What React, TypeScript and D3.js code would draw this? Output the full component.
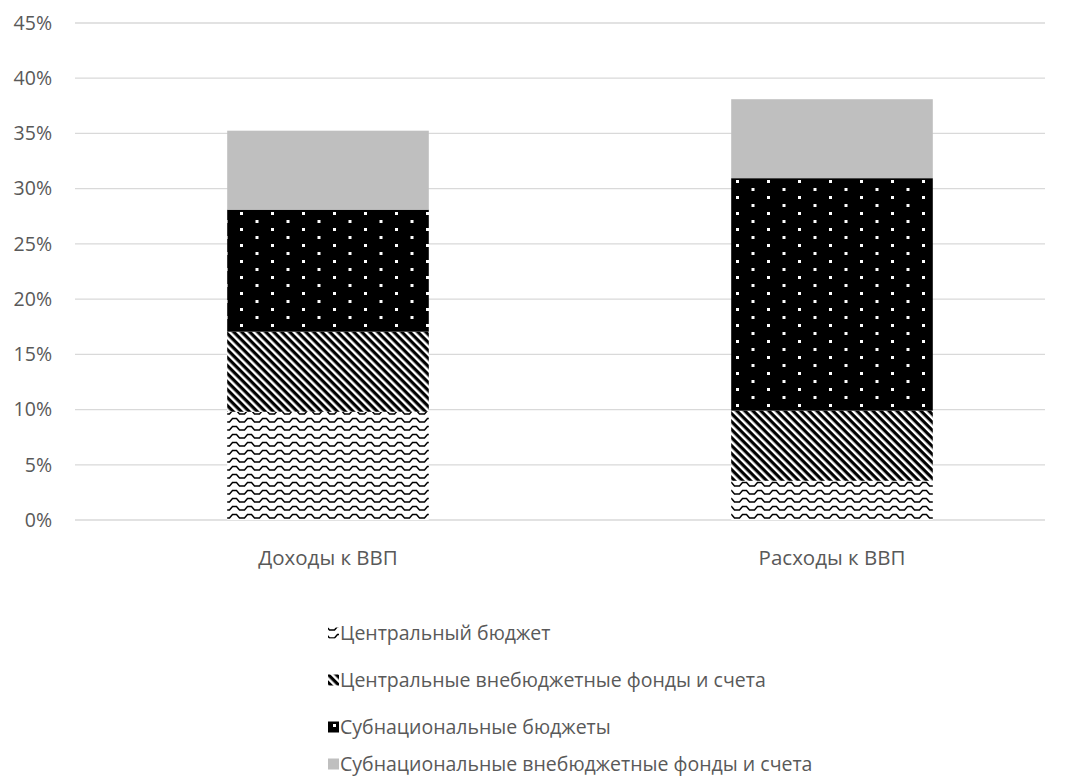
import React from "react";
import * as d3 from "d3";

const categories = ["Доходы к ВВП", "Расходы к ВВП"];
const seriesNames = [
  "Центральный бюджет",
  "Центральные внебюджетные фонды и счета",
  "Субнациональные бюджеты",
  "Субнациональные внебюджетные фонды и счета",
];
const centralBudget = [9.8, 3.55];
const centralExtra = [7.25, 6.35];
const subnationalBudget = [11.05, 21.05];
const subnationalExtra = [7.15, 7.15];
const yTicks = [0, 5, 10, 15, 20, 25, 30, 35, 40, 45];

const W = 1076;
const H = 779;
const FONT = "'Open Sans', 'Noto Sans', sans-serif";
const TEXT = "#595959";
const FS = 19.5;

export default function App() {
  const seriesValues = [centralBudget, centralExtra, subnationalBudget, subnationalExtra];
  const rows = categories.map((c, i) => {
    const r: any = { cat: c };
    seriesNames.forEach((s, k) => (r[s] = seriesValues[k][i]));
    return r;
  });
  const stacked = d3.stack<any>().keys(seriesNames)(rows);

  const y = d3.scaleLinear().domain([0, 45]).range([520, 23]);
  const x = d3.scaleBand().domain(categories).range([76, 1084]).paddingInner(0.6).paddingOuter(0.3);
  const gridX0 = 75;
  const gridX1 = 1045;
  const fills = ["url(#wave)", "url(#hatch)", "url(#dots)", "#bfbfbf"];

  const legendY = [633, 680, 727, 764];

  return (
    <svg width={W} height={H} style={{ position: "absolute", left: 0, top: 0, display: "block" }}>
      <defs>
        <pattern id="wave" patternUnits="userSpaceOnUse" width={15} height={8} x={227} y={0}>
          <rect width={15} height={8} fill="#fff" />
          <path d="M-1,6 L2.5,6 L5.5,2.5 L9.5,2.5 L12.5,6 L16,6" fill="none" stroke="#000" strokeWidth={1.5} />
        </pattern>
        <pattern id="hatch" patternUnits="userSpaceOnUse" width={5.66} height={5.66} patternTransform="rotate(45)">
          <rect width={5.66} height={5.66} fill="#fff" />
          <rect x={0} y={0} width={5.66} height={3.2} fill="#000" />
        </pattern>
        <pattern id="dots" patternUnits="userSpaceOnUse" width={31} height={16} x={240} y={4}>
          <rect width={31} height={16} fill="#000" />
          <rect x={0} y={0} width={3} height={3} fill="#fff" />
          <rect x={15.5} y={8} width={3} height={3} fill="#fff" />
        </pattern>
      </defs>
      <rect width={W} height={H} fill="#fff" />
      {yTicks.map((t) => (
        <g key={t}>
          <line x1={gridX0} x2={gridX1} y1={y(t)} y2={y(t)} stroke="#d9d9d9" strokeWidth={1.3} />
          <text x={52} y={y(t)} dy="0.35em" textAnchor="end" fontFamily={FONT} fontSize={FS} fill={TEXT}>
            {t}%
          </text>
        </g>
      ))}
      {stacked.map((s, k) =>
        s.map((d, i) => (
          <rect
            key={`${k}-${i}`}
            x={x(categories[i])}
            width={x.bandwidth()}
            y={y(d[1])}
            height={y(d[0]) - y(d[1])}
            fill={fills[k]}
          />
        ))
      )}
      {categories.map((c) => (
        <text
          key={c}
          x={(x(c) as number) + x.bandwidth() / 2}
          y={558}
          dy="0.35em"
          textAnchor="middle"
          fontFamily={FONT}
          fontSize={20.5}
          fill={TEXT}
        >
          {c}
        </text>
      ))}
      {seriesNames.map((s, k) => (
        <g key={s}>
          <rect x={328} y={legendY[k] - 5.5} width={11} height={11} fill={fills[k]} />
          <text x={340} y={legendY[k]} dy="0.35em" fontFamily={FONT} fontSize={FS} fill={TEXT}>
            {s}
          </text>
        </g>
      ))}
    </svg>
  );
}
